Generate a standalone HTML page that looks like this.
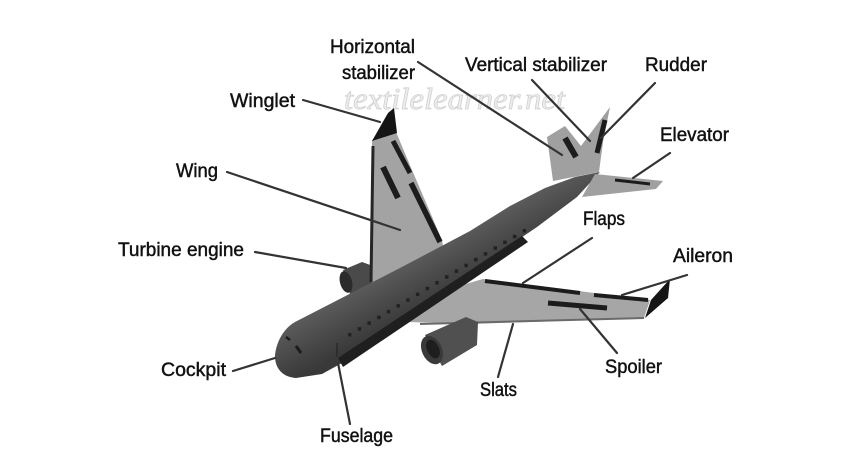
<!DOCTYPE html>
<html><head><meta charset="utf-8"><style>
html,body{margin:0;padding:0;background:#fff;}
svg{display:block;}
text{font-family:"Liberation Sans",sans-serif;font-size:19px;fill:#111;stroke:#111;stroke-width:0.45;}
</style></head><body>
<svg width="847" height="457" viewBox="0 0 847 457" xmlns="http://www.w3.org/2000/svg">
<defs>
<linearGradient id="fus" gradientUnits="userSpaceOnUse" x1="398" y1="262" x2="424" y2="310">
<stop offset="0" stop-color="#5e5e5e"/><stop offset="0.5" stop-color="#4b4b4b"/><stop offset="1" stop-color="#393939"/>
</linearGradient>
</defs>
<rect width="847" height="457" fill="#fff"/>

<!-- watermark -->
<text x="344" y="109" style="font-family:'Liberation Serif',serif;font-style:italic;font-size:31px;fill:#ededed;stroke:#d2d2d2;stroke-width:0.8" textLength="221" lengthAdjust="spacingAndGlyphs">textilelearner.net</text>

<!-- far engine -->
<polygon points="343,270 362,262 373,266 373,291 350,294" fill="#4a4a4a"/>
<ellipse cx="346" cy="282" rx="6" ry="11" fill="#2b2b2b" transform="rotate(-15 346 282)"/>

<!-- far wing -->
<polygon points="372,140 396,132 412,170 442,240 444,252 372,286" fill="#a3a3a3"/>
<line x1="373" y1="146" x2="371" y2="282" stroke="#262626" stroke-width="3"/>
<polygon points="372,141 388,113 394,108 397,133" fill="#151515"/>
<line x1="393" y1="141" x2="410" y2="173" stroke="#1c1c1c" stroke-width="5"/>
<line x1="411" y1="183" x2="440" y2="242" stroke="#1c1c1c" stroke-width="5.5"/>
<line x1="383" y1="167" x2="398" y2="198" stroke="#1c1c1c" stroke-width="6"/>

<!-- tail far stabilizer + fin -->
<polygon points="547,137 565,126 581,146 610,107 603,142 599,172 553,181" fill="#a0a0a0"/>
<line x1="565" y1="138" x2="576" y2="157" stroke="#1c1c1c" stroke-width="6"/>
<line x1="605" y1="120" x2="597" y2="153" stroke="#1c1c1c" stroke-width="5"/>

<!-- near wing -->
<polygon points="408,322 445,290 483,279 650,300 644,318 470,324" fill="#a6a6a6"/>
<line x1="420" y1="324" x2="644" y2="318" stroke="#6a6a6a" stroke-width="2"/>
<line x1="485" y1="281" x2="580" y2="293" stroke="#1c1c1c" stroke-width="4"/>
<line x1="594" y1="295" x2="648" y2="300" stroke="#1c1c1c" stroke-width="4"/>
<line x1="548" y1="303" x2="607" y2="308" stroke="#1c1c1c" stroke-width="5"/>
<polygon points="645,318 651,300 670,279 668,298" fill="#151515"/>

<!-- fuselage -->
<path d="M295,322 C284,328 276,342 275,356 C275,369 283,377 296,378 L322,374 L342,363 L420,313 L470,280 L503,250 L537,227 L577,197 L600,172 L575,177 L545,188 L510,206 L470,231 L400,268 Z" fill="url(#fus)"/>
<polygon points="338,358 522,236 528,242 343,367" fill="#1f1f1f"/>
<line x1="337" y1="343" x2="337" y2="357" stroke="#2a2a2a" stroke-width="1.5"/>
<line x1="296" y1="346" x2="301" y2="353" stroke="#1c1c1c" stroke-width="3"/>
<line x1="286" y1="337" x2="290" y2="340" stroke="#1c1c1c" stroke-width="2.5"/>
<g fill="#222">
<rect x="348" y="333" width="3.5" height="3.5"/><rect x="357.7" y="327.2" width="3.5" height="3.5"/><rect x="367.4" y="321.4" width="3.5" height="3.5"/><rect x="377.1" y="315.7" width="3.5" height="3.5"/><rect x="386.8" y="309.9" width="3.5" height="3.5"/><rect x="396.5" y="304.1" width="3.5" height="3.5"/><rect x="406.2" y="298.3" width="3.5" height="3.5"/><rect x="415.9" y="292.6" width="3.5" height="3.5"/><rect x="425.6" y="286.8" width="3.5" height="3.5"/><rect x="435.3" y="281" width="3.5" height="3.5"/><rect x="445" y="275.2" width="3.5" height="3.5"/><rect x="454.7" y="269.4" width="3.5" height="3.5"/><rect x="464.4" y="263.7" width="3.5" height="3.5"/><rect x="474.1" y="257.9" width="3.5" height="3.5"/><rect x="483.8" y="252.1" width="3.5" height="3.5"/><rect x="493.5" y="246.3" width="3.5" height="3.5"/><rect x="503.2" y="240.6" width="3.5" height="3.5"/><rect x="512.9" y="234.8" width="3.5" height="3.5"/><rect x="522.6" y="229" width="3.5" height="3.5"/>
</g>

<!-- near horizontal stabilizer -->
<polygon points="595,174 663,181 656,189 582,197" fill="#a0a0a0"/>
<line x1="615" y1="180" x2="650" y2="184" stroke="#1c1c1c" stroke-width="3"/>

<!-- near engine -->
<polygon points="425,335 466,317 478,322 477,345 442,366" fill="#505050"/>
<ellipse cx="432" cy="350" rx="10" ry="15" fill="#3a3a3a" transform="rotate(-25 432 350)"/>
<ellipse cx="433" cy="349" rx="6" ry="10" fill="#1e1e1e" transform="rotate(-25 433 349)"/>

<!-- leader lines -->
<g stroke="#333" stroke-width="2.2" stroke-linecap="round">
<line x1="418" y1="62" x2="562" y2="155"/>
<line x1="532" y1="80" x2="590" y2="141"/>
<line x1="655" y1="83" x2="601" y2="138"/>
<line x1="670" y1="153" x2="633" y2="178"/>
<line x1="303" y1="100" x2="380" y2="122"/>
<line x1="227" y1="172" x2="400" y2="230"/>
<line x1="255" y1="252" x2="346" y2="268"/>
<line x1="233" y1="371" x2="275" y2="358"/>
<line x1="350" y1="424" x2="338" y2="363"/>
<line x1="498" y1="377" x2="513" y2="324"/>
<line x1="617" y1="353" x2="580" y2="309"/>
<line x1="592" y1="238" x2="523" y2="283"/>
<line x1="687" y1="275" x2="622" y2="295"/>
</g>

<!-- labels -->
<text x="330" y="53" textLength="85" lengthAdjust="spacingAndGlyphs">Horizontal</text>
<text x="342" y="79" textLength="73" lengthAdjust="spacingAndGlyphs">stabilizer</text>
<text x="465" y="71" textLength="142" lengthAdjust="spacingAndGlyphs">Vertical stabilizer</text>
<text x="645" y="71" textLength="62" lengthAdjust="spacingAndGlyphs">Rudder</text>
<text x="660" y="141" textLength="69" lengthAdjust="spacingAndGlyphs">Elevator</text>
<text x="230" y="107" textLength="65" lengthAdjust="spacingAndGlyphs">Winglet</text>
<text x="176" y="177" textLength="42" lengthAdjust="spacingAndGlyphs">Wing</text>
<text x="118" y="256" textLength="126" lengthAdjust="spacingAndGlyphs">Turbine engine</text>
<text x="161" y="376" textLength="65" lengthAdjust="spacingAndGlyphs">Cockpit</text>
<text x="320" y="442" textLength="73" lengthAdjust="spacingAndGlyphs">Fuselage</text>
<text x="480" y="396" textLength="37" lengthAdjust="spacingAndGlyphs">Slats</text>
<text x="583" y="225" textLength="42" lengthAdjust="spacingAndGlyphs">Flaps</text>
<text x="673" y="262" textLength="60" lengthAdjust="spacingAndGlyphs">Aileron</text>
<text x="605" y="373" textLength="57" lengthAdjust="spacingAndGlyphs">Spoiler</text>
</svg>
</body></html>
